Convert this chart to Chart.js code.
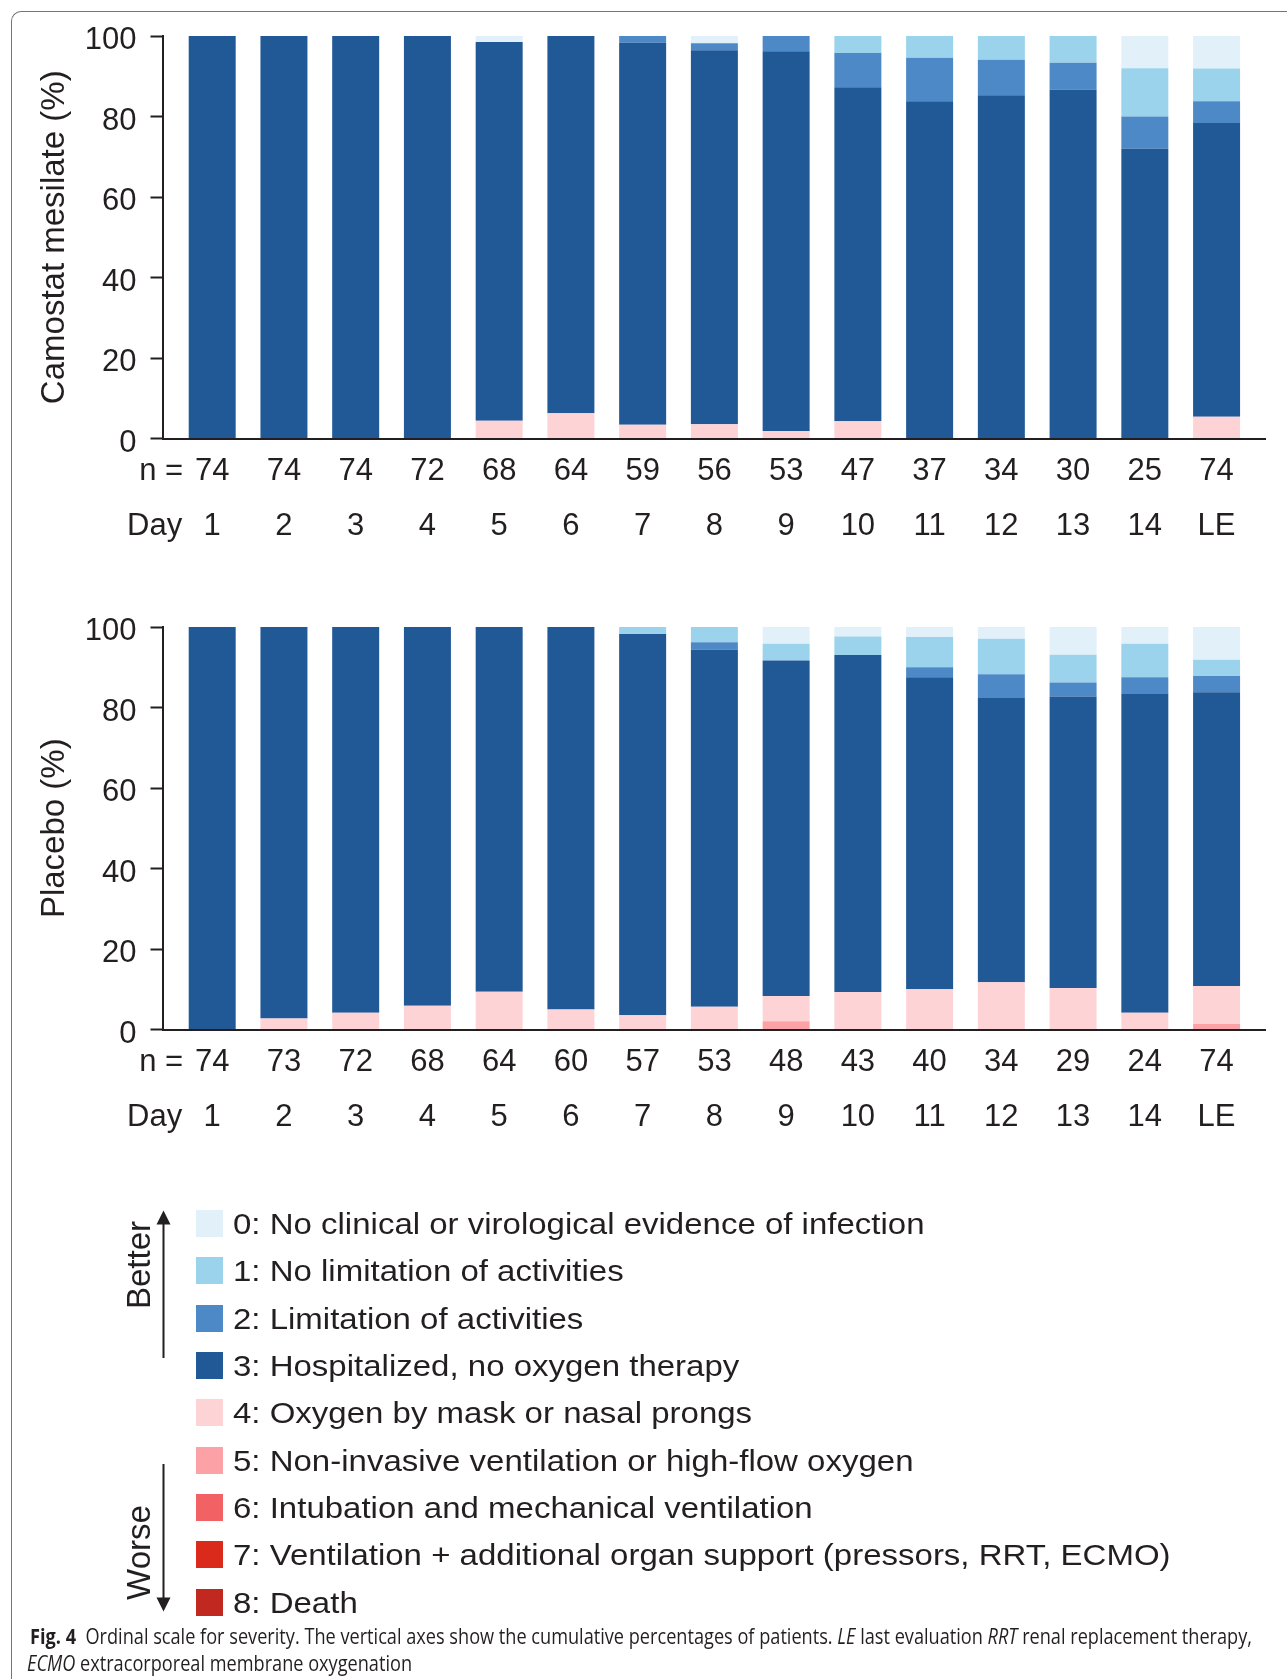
<!DOCTYPE html>
<html lang="en">
<head>
<meta charset="utf-8">
<title>Ordinal scale for severity</title>
<script src="https://cdn.jsdelivr.net/npm/chart.js@4/dist/chart.umd.min.js"></script>
<style>
  html, body { margin: 0; padding: 0; background: #ffffff; }
  body { position: relative; width: 1287px; height: 1679px; overflow: hidden;
         font-family: "Liberation Sans", Arial, Helvetica, sans-serif; color: #231f20; }
  .frame { position: absolute; left: 11px; top: 11px; width: 1400px; height: 1800px; box-sizing: border-box;
           border-top: 1.5px solid #767676; border-left: 1.5px solid #767676; border-top-left-radius: 10px; }
  .panel { position: absolute; left: 0; width: 1287px; height: 560px; }
  .key-swatch { position: absolute; left: 196px; width: 27px; height: 27px; }
  .key-text { position: absolute; left: 233px; height: 27px; line-height: 27px; font-size: 30px;
              white-space: nowrap; transform: scaleX(1.1); transform-origin: 0 50%; }
  .caption { position: absolute; white-space: nowrap; font-family: "Open Sans", "Liberation Sans", sans-serif;
             font-size: 22px; line-height: 27px; transform-origin: 0 50%; color: #231f20; }
  .caption b { font-weight: 700; }
</style>
</head>
<body>
<div class="frame"></div>
<canvas id="camostatChart" class="panel" style="top:0px" width="1287" height="560"></canvas>
<canvas id="placeboChart" class="panel" style="top:591px" width="1287" height="560"></canvas>

<svg style="position:absolute;left:0;top:0" width="1287" height="1679">
  <g fill="#231f20" stroke="none">
    <rect x="162.5" y="1222" width="2" height="136"/>
    <polygon points="163.5,1210.5 156.5,1224.5 170.5,1224.5"/>
    <rect x="162.5" y="1464" width="2" height="136"/>
    <polygon points="163.5,1611.5 156.5,1597.5 170.5,1597.5"/>
    <text transform="translate(150 1265) rotate(-90)" text-anchor="middle"
          font-family="Liberation Sans, Arial, sans-serif" font-size="33">Better</text>
    <text transform="translate(150 1552.5) rotate(-90)" text-anchor="middle"
          font-family="Liberation Sans, Arial, sans-serif" font-size="33">Worse</text>
  </g>
</svg>

<div id="key"></div>

<div class="caption" id="cap1" style="left:30px; top:1621.5px;"><b>Fig. 4</b>&nbsp;&nbsp;Ordinal scale for severity. The vertical axes show the cumulative percentages of patients. <i>LE</i> last evaluation <i>RRT</i> renal replacement therapy,</div>
<div class="caption" id="cap2" style="left:27px; top:1648.5px;"><i>ECMO</i> extracorporeal membrane oxygenation</div>

<script>
// ---- data -----------------------------------------------------------------
const dayLabels = ['1', '2', '3', '4', '5', '6', '7', '8', '9', '10', '11', '12', '13', '14', 'LE'];
const camostatN = [74, 74, 74, 72, 68, 64, 59, 56, 53, 47, 37, 34, 30, 25, 74];
const placeboN  = [74, 73, 72, 68, 64, 60, 57, 53, 48, 43, 40, 34, 29, 24, 74];

const categories = [
  '0: No clinical or virological evidence of infection',
  '1: No limitation of activities',
  '2: Limitation of activities',
  '3: Hospitalized, no oxygen therapy',
  '4: Oxygen by mask or nasal prongs',
  '5: Non-invasive ventilation or high-flow oxygen',
  '6: Intubation and mechanical ventilation',
  '7: Ventilation + additional organ support (pressors, RRT, ECMO)',
  '8: Death'
];
const categoryColors = ['#e2f0fa', '#9bd3ec', '#4d89c6', '#215896', '#fed3d6',
                        '#fca2a6', '#f26163', '#da2a1c', '#c1281f'];

// Percent of patients in each score, per day (Day 1 ... Day 14, LE)
const camostat0 = [0, 0, 0, 0, 1.47, 0, 0, 1.79, 0, 0, 0, 0, 0, 8.00, 8.11];
const camostat1 = [0, 0, 0, 0, 0, 0, 0, 0, 0, 4.26, 5.41, 5.88, 6.67, 12.00, 8.11];
const camostat2 = [0, 0, 0, 0, 0, 0, 1.69, 1.79, 3.77, 8.51, 10.81, 8.82, 6.67, 8.00, 5.41];
const camostat3 = [100, 100, 100, 100, 94.12, 93.75, 94.92, 92.86, 94.34, 82.98, 83.78, 85.29, 86.67, 72.00, 72.97];
const camostat4 = [0, 0, 0, 0, 4.41, 6.25, 3.39, 3.57, 1.89, 4.26, 0, 0, 0, 0, 5.41];
const camostat5 = [0, 0, 0, 0, 0, 0, 0, 0, 0, 0, 0, 0, 0, 0, 0];
const camostat6 = [0, 0, 0, 0, 0, 0, 0, 0, 0, 0, 0, 0, 0, 0, 0];
const camostat7 = [0, 0, 0, 0, 0, 0, 0, 0, 0, 0, 0, 0, 0, 0, 0];
const camostat8 = [0, 0, 0, 0, 0, 0, 0, 0, 0, 0, 0, 0, 0, 0, 0];

const placebo0 = [0, 0, 0, 0, 0, 0, 0, 0, 4.17, 2.33, 2.50, 2.94, 6.90, 4.17, 8.11];
const placebo1 = [0, 0, 0, 0, 0, 0, 1.75, 3.77, 4.17, 4.65, 7.50, 8.82, 6.90, 8.33, 4.05];
const placebo2 = [0, 0, 0, 0, 0, 0, 0, 1.89, 0, 0, 2.50, 5.88, 3.45, 4.17, 4.05];
const placebo3 = [100, 97.26, 95.83, 94.12, 90.63, 95.00, 94.74, 88.68, 83.33, 83.72, 77.50, 70.59, 72.41, 79.17, 72.97];
const placebo4 = [0, 2.74, 4.17, 5.88, 9.38, 5.00, 3.51, 5.66, 6.25, 9.30, 10.00, 11.76, 10.34, 4.17, 9.46];
const placebo5 = [0, 0, 0, 0, 0, 0, 0, 0, 2.08, 0, 0, 0, 0, 0, 1.35];
const placebo6 = [0, 0, 0, 0, 0, 0, 0, 0, 0, 0, 0, 0, 0, 0, 0];
const placebo7 = [0, 0, 0, 0, 0, 0, 0, 0, 0, 0, 0, 0, 0, 0, 0];
const placebo8 = [0, 0, 0, 0, 0, 0, 0, 0, 0, 0, 0, 0, 0, 0, 0];

const camostatSeries = [camostat0, camostat1, camostat2, camostat3, camostat4, camostat5, camostat6, camostat7, camostat8];
const placeboSeries  = [placebo0, placebo1, placebo2, placebo3, placebo4, placebo5, placebo6, placebo7, placebo8];

// ---- chart setup ----------------------------------------------------------
const INK = '#231f20';
const FONT = '"Liberation Sans", Arial, Helvetica, sans-serif';
Chart.defaults.font.family = FONT;
Chart.defaults.color = INK;

// x range chosen so the first bar sits a little inside the y axis
const X_MIN = 0.3142;
const X_MAX = 15.675;
const ROW_HEIGHT = 55;

// "n =" and "Day" row headings, placed left of the first column
const rowHeads = {
  id: 'rowHeads',
  afterDraw(chart) {
    const {ctx, scales: {x}} = chart;
    const first = x.getPixelForValue(1);
    const y1 = x.top + 5 + ROW_HEIGHT / 2;
    ctx.save();
    ctx.font = '31px ' + FONT;
    ctx.fillStyle = INK;
    ctx.textAlign = 'right';
    ctx.textBaseline = 'middle';
    ctx.fillText('n =', first - 29, y1);
    ctx.fillText('Day', first - 30, y1 + ROW_HEIGHT);
    ctx.restore();
  }
};

function buildChart(canvasId, series, nValues, axisTitle) {
  // stack from the worst score (bottom) to the best score (top)
  const order = [8, 7, 6, 5, 4, 3, 2, 1, 0];
  return new Chart(document.getElementById(canvasId), {
    type: 'bar',
    data: {
      datasets: order.map(k => ({
        label: categories[k],
        data: series[k].map((v, i) => ({x: i + 1, y: v})),
        backgroundColor: categoryColors[k],
        borderWidth: 0,
        barPercentage: 0.655,
        categoryPercentage: 1
      }))
    },
    options: {
      responsive: false,
      animation: false,
      devicePixelRatio: 1,
      layout: {padding: {left: 0, right: 22, top: 36, bottom: 0}},
      plugins: {legend: {display: false}, tooltip: {enabled: false}},
      scales: {
        x: {
          type: 'linear',
          stacked: true,
          offset: false,
          min: X_MIN,
          max: X_MAX,
          afterBuildTicks: scale => { scale.ticks = dayLabels.map((_, i) => ({value: i + 1})); },
          afterFit: scale => { scale.height = 121.5; },
          ticks: {
            autoSkip: false, maxRotation: 0, minRotation: 0, padding: 5, color: INK,
            font: {size: 31, lineHeight: ROW_HEIGHT / 31},
            callback: (value, index) => [String(nValues[index]), dayLabels[index]]
          },
          grid: {display: false, drawTicks: false, offset: false},
          border: {display: true, color: INK, width: 2, z: 1}
        },
        y: {
          stacked: true,
          min: 0,
          max: 100,
          afterFit: scale => { scale.width = 163; },
          ticks: {stepSize: 20, padding: 14, labelOffset: 4.5, color: INK, font: {size: 31}},
          grid: {display: true, drawOnChartArea: false, drawTicks: true, tickLength: 12.5, tickWidth: 2, tickColor: INK},
          border: {display: true, color: INK, width: 2, z: 1},
          title: {display: true, text: axisTitle, color: INK, font: {size: 33}, padding: {top: 35.5, bottom: 0}}
        }
      }
    },
    plugins: [rowHeads]
  });
}

buildChart('camostatChart', camostatSeries, camostatN, 'Camostat mesilate (%)');
buildChart('placeboChart', placeboSeries, placeboN, 'Placebo (%)');

// ---- severity key ----------------------------------------------------------
const key = document.getElementById('key');
const KEY_TOP = 1210, KEY_STEP = 47.35;
categories.forEach((label, k) => {
  const top = KEY_TOP + k * KEY_STEP;
  const sw = document.createElement('div');
  sw.className = 'key-swatch';
  sw.style.top = top + 'px';
  sw.style.background = categoryColors[k];
  const tx = document.createElement('div');
  tx.className = 'key-text';
  tx.style.top = top + 'px';
  tx.textContent = label;
  key.appendChild(sw);
  key.appendChild(tx);
});

// ---- caption: condensed to the figure width ------------------------------
function fitCaption() {
  const c1 = document.getElementById('cap1');
  const c2 = document.getElementById('cap2');
  c1.style.transform = c2.style.transform = 'none';
  const k = (1252 - 30) / c1.getBoundingClientRect().width;
  c1.style.transform = c2.style.transform = 'scaleX(' + k + ')';
}
fitCaption();
if (document.fonts && document.fonts.ready) document.fonts.ready.then(fitCaption);
</script>
</body>
</html>
